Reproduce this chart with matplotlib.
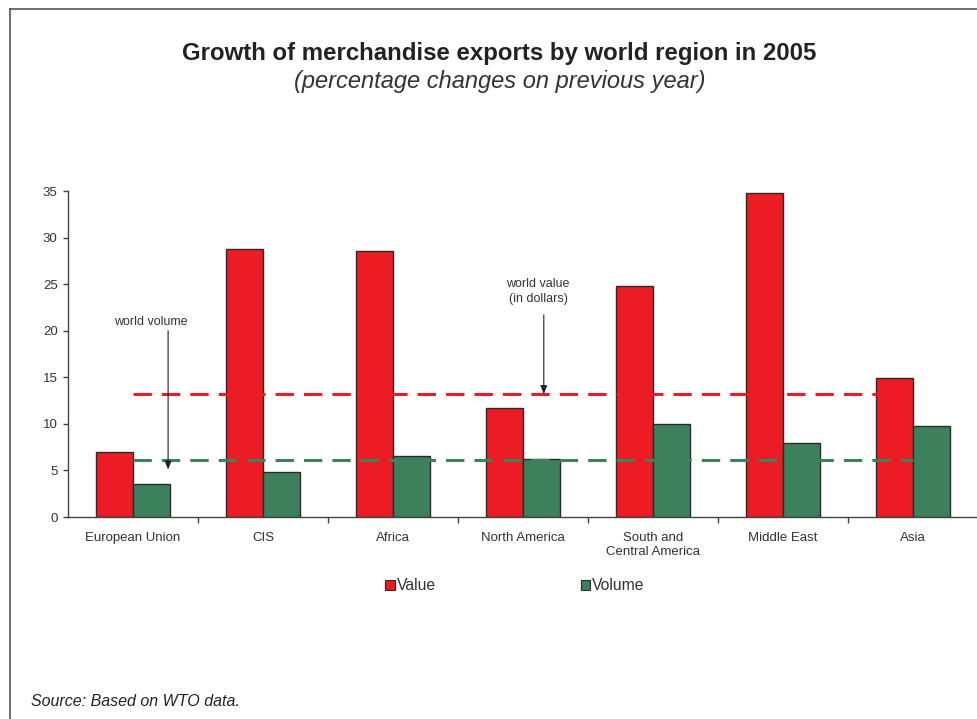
import numpy as np
import matplotlib
matplotlib.use("Agg")
import matplotlib.pyplot as plt
from matplotlib.lines import Line2D
from matplotlib.patches import Patch

plt.rcParams['font.family'] = ['Liberation Sans', 'DejaVu Sans']

# growth of merchandise exports, 2005 (% change on previous year)
regions = ['European Union', 'CIS', 'Africa', 'North America',
           'South and\nCentral America', 'Middle East', 'Asia']
value = [7.0, 28.8, 28.6, 11.7, 24.8, 34.8, 14.9]
volume = [3.5, 4.8, 6.5, 6.2, 10.0, 7.9, 9.8]
world_value = 13.2
world_volume = 6.1

RED = '#ed1c24'
GREEN = '#3d815c'
EDGE = '#2a2a2a'
TXT = '#333333'

W, H = 978, 719
fig = plt.figure(figsize=(W / 100, H / 100), dpi=100)
ax = fig.add_axes([68 / W, (H - 517) / H, 910 / W, 326 / H])

x = np.arange(len(regions))
bw = 0.285
ax.bar(x - bw / 2, value, bw, color=RED, edgecolor=EDGE, linewidth=1.0, label='Value', zorder=2)
ax.bar(x + bw / 2, volume, bw, color=GREEN, edgecolor=EDGE, linewidth=1.0, label='Volume', zorder=2)

# world averages as dashed reference lines
ax.plot([0, 5.75], [world_value] * 2, color=RED, lw=2.2, ls=(0, (6, 3.3)), zorder=3)
ax.plot([0, 6.0], [world_volume] * 2, color=GREEN, lw=2.2, ls=(0, (6, 3.3)), zorder=3)

arr = dict(arrowstyle='-|>,head_length=0.5,head_width=0.2', color='#222222', lw=0.8,
           shrinkA=0, shrinkB=0)
ax.annotate('', xy=(0.27, world_volume - 1.0), xytext=(0.27, 20.0), arrowprops=arr, zorder=4)
ax.text(0.14, 20.9, 'world volume', ha='center', va='center', fontsize=9, color=TXT)
ax.annotate('', xy=(3.16, world_value), xytext=(3.16, 21.7), arrowprops=arr, zorder=4)
ax.text(3.115, 24.2, 'world value\n(in dollars)', ha='center', va='center', fontsize=9,
        color=TXT, linespacing=1.25)

ax.set_xlim(-0.5, len(regions) - 0.5)
ax.set_ylim(0, 35)
ax.set_yticks(np.arange(0, 36, 5))
ax.set_xticks(x)
ax.set_xticklabels(regions, fontsize=9.5, color=TXT, linespacing=1.2)
ax.set_xticks(np.arange(0.5, len(regions) - 0.5), minor=True)
ax.tick_params(axis='x', which='major', length=0, pad=11)
ax.tick_params(axis='x', which='minor', length=4, width=1, color='#444444', direction='out')
ax.tick_params(axis='y', length=3.5, width=1, color='#444444', labelsize=9.5,
               labelcolor=TXT, pad=4)
for side in ['top', 'right']:
    ax.spines[side].set_visible(False)
for side in ['left', 'bottom']:
    ax.spines[side].set_color('#444444')
    ax.spines[side].set_linewidth(1.0)

handles = [Patch(facecolor=RED, edgecolor=EDGE, lw=0.8, label='Value'),
           Patch(facecolor=GREEN, edgecolor=EDGE, lw=0.8, label='Volume')]
fig.legend(handles=handles, loc='center', bbox_to_anchor=(515 / W, 1 - 586 / H), ncol=2,
           frameon=False, fontsize=11.3, handlelength=0.6, handleheight=0.6,
           handletextpad=0.15, columnspacing=9.2, labelcolor=TXT)

fig.text(499 / W, 1 - 60 / H, 'Growth of merchandise exports by world region in 2005',
         ha='center', va='baseline', fontsize=17.3, fontweight='bold', color='#222222')
fig.text(500 / W, 1 - 88 / H, '(percentage changes on previous year)',
         ha='center', va='baseline', fontsize=17, style='italic', color='#333333')
fig.text(31 / W, 1 - 702 / H, 'Source: Based on WTO data.', ha='left', va='center',
         fontsize=11.5, style='italic', color='#222222')

# outer frame (top and left edges)
fig.add_artist(Line2D([9.5 / W, 1.0], [1 - 8.5 / H] * 2, transform=fig.transFigure,
                      color='#555555', lw=1.2))
fig.add_artist(Line2D([9.5 / W] * 2, [0, 1 - 8.5 / H], transform=fig.transFigure,
                      color='#555555', lw=1.2))

fig.savefig('out.png', dpi=100)
